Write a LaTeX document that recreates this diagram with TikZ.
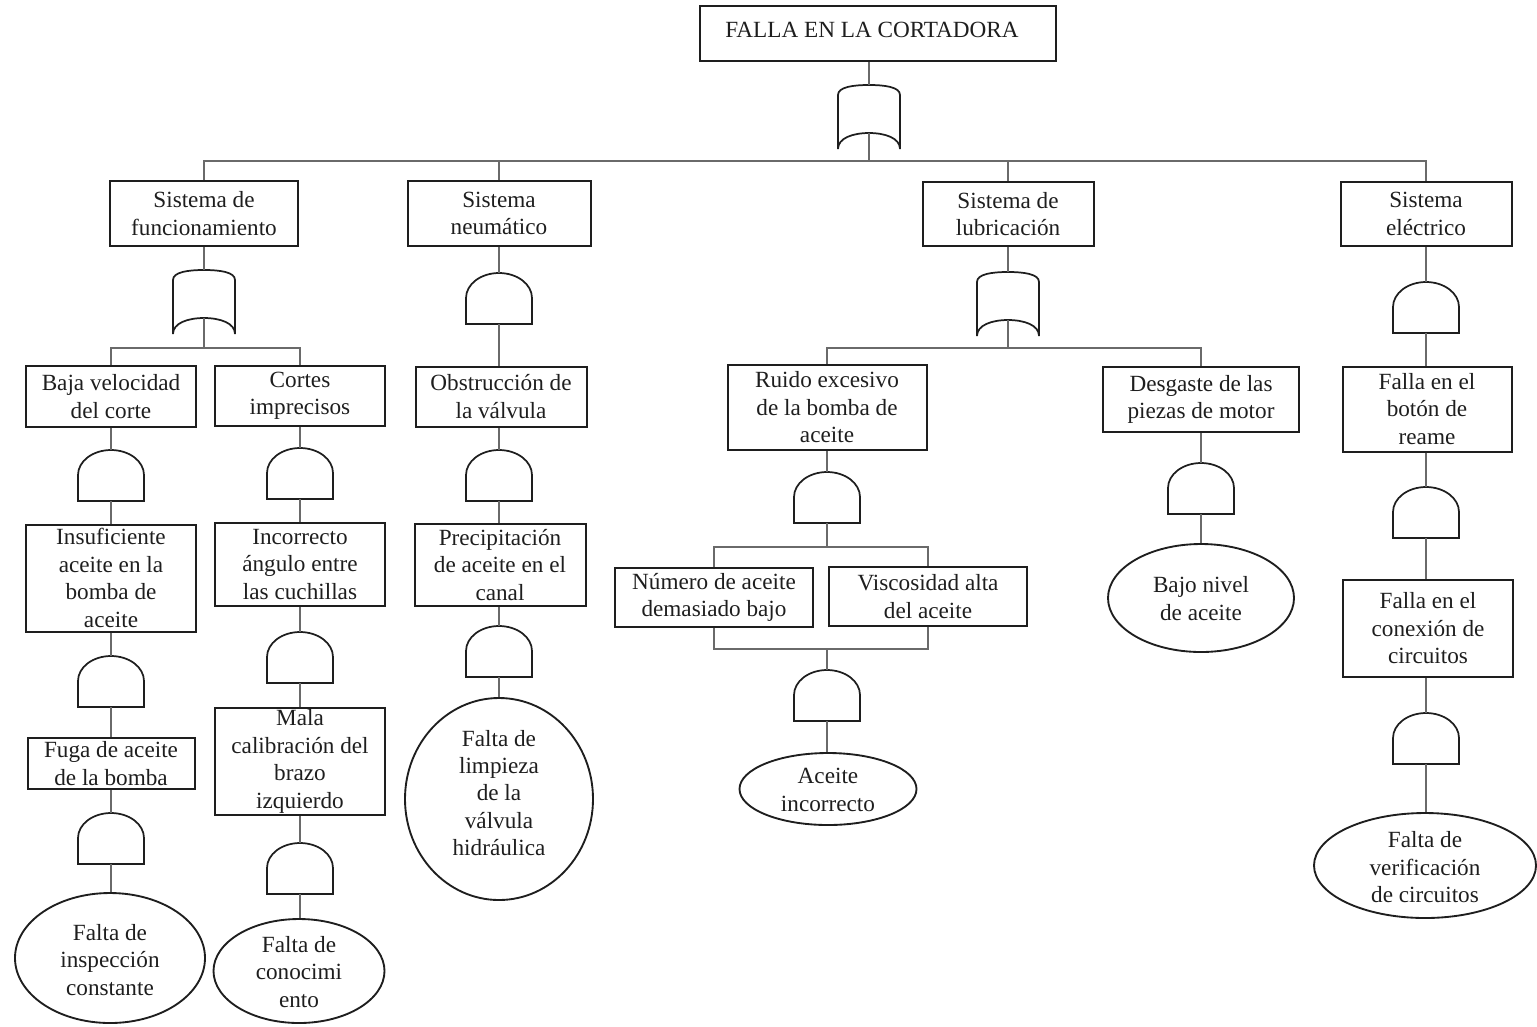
\documentclass[tikz,border=0pt]{standalone}
\usepackage{fontspec}
\setmainfont{Liberation Serif}
\usetikzlibrary{shapes.geometric}
\definecolor{ink}{HTML}{1E1E1E}
\definecolor{wire}{HTML}{6A6A6A}
\begin{document}
\begin{tikzpicture}[x=0.75pt,y=-0.75pt,
  every node/.style={font=\fontsize{17.4pt}{20.6pt}\selectfont, text=ink},
  sz/.style 2 args={minimum width=#1*0.75pt, minimum height=#2*0.75pt},
  evbox/.style={draw=ink, line width=1.5pt, rectangle, inner sep=0pt, align=center},
  evoval/.style={draw=ink, line width=1.4pt, ellipse, inner sep=0pt},
  evtext/.style={align=center, inner sep=0pt},
  conn/.style={draw=wire, line width=1pt},
  gateline/.style={draw=ink, line width=1.3pt},
  orgate/.pic={
    \draw[gateline] (-31,10) .. controls (-31,2) and (-16,0) .. (0,0)
      .. controls (16,0) and (31,2) .. (31,10) -- (31,64)
      .. controls (31,53) and (16,48) .. (0,48)
      .. controls (-16,48) and (-31,53) .. (-31,64) -- cycle;
    \coordinate (-in) at (0,0);
    \coordinate (-out) at (0,48);
  },
  andgate/.pic={
    \draw[gateline] (-33,51) -- (-33,25) .. controls (-33,11.2) and (-18.2,0) .. (0,0)
      .. controls (18.2,0) and (33,11.2) .. (33,25) -- (33,51) -- cycle;
    \coordinate (-in) at (0,0);
    \coordinate (-out) at (0,51);
  }
]
\useasboundingbox (0,0) rectangle (1537,1026);

% ---------- top event ----------
\node[evbox, sz={356}{55}] (top) at (878,33.5) {};
\node[evtext] (topt) at (872,30) {FALLA EN LA CORTADORA};
\pic (g0) at (869,85) {orgate};

% ---------- subsystems ----------
\node[evbox, sz={188}{65}] (b1) at (204,213.5) {Sistema de\\funcionamiento};
\node[evbox, sz={183}{65}] (b2) at (499,213.5) {Sistema\\neumático};
\node[evbox, sz={171}{64}] (b3) at (1008,214) {Sistema de\\lubricación};
\node[evbox, sz={171}{64}] (b4) at (1426,214) {Sistema\\eléctrico};

\pic (g1) at (204,270) {orgate};
\pic (g2) at (499,273) {andgate};
\pic (g3) at (1008,272) {orgate};
\pic (g4) at (1426,282) {andgate};

% ---------- third level ----------
\node[evbox, sz={170}{61}] (c1) at (111,396.5) {Baja velocidad\\del corte};
\node[evbox, sz={170}{60}] (c2) at (300,396) {Cortes\\imprecisos};
\node[evbox, sz={171}{60}] (c3) at (501,396.5) {Obstrucción de\\la válvula};
\node[evbox, sz={199}{85}] (c4) at (827,407.5) {Ruido excesivo\\de la bomba de\\aceite};
\node[evbox, sz={196}{65}] (c5) at (1201,399.5) {Desgaste de las\\piezas de motor};
\node[evbox, sz={169}{85}] (c6) at (1427,409) {Falla en el\\botón de\\reame};

\pic (gA1) at (111,450) {andgate};
\pic (gB1) at (300,448) {andgate};
\pic (gC1) at (499,450) {andgate};
\pic (gD1) at (827,472) {andgate};
\pic (gE1) at (1201,463) {andgate};
\pic (gF1) at (1426,487) {andgate};

% ---------- fourth level ----------
\node[evbox, sz={170}{107}] (d1) at (111,578) {Insuficiente\\aceite en la\\bomba de\\aceite};
\node[evbox, sz={170}{83}] (d2) at (300,564.5) {Incorrecto\\ángulo entre\\las cuchillas};
\node[evbox, sz={171}{82}] (d3) at (500,565) {Precipitación\\de aceite en el\\canal};
\node[evbox, sz={198}{59}] (d4) at (714,597.5) {Número de aceite\\demasiado bajo};
\node[evbox, sz={198}{59}] (d5) at (928,596.5) {Viscosidad alta\\del aceite};
\node[evoval, sz={186}{108}] (d6) at (1201,598) {};
\node[evtext] (d6t) at (1201,598.5) {Bajo nivel\\de aceite};
\node[evbox, sz={170}{97}] (d7) at (1428,628.5) {Falla en el\\conexión de\\circuitos};

\pic (gA2) at (111,656) {andgate};
\pic (gB2) at (300,632) {andgate};
\pic (gC2) at (499,626) {andgate};
\pic (gD2) at (827,670) {andgate};
\pic (gF2) at (1426,713) {andgate};

% ---------- fifth level ----------
\node[evbox, sz={167}{51}] (e1) at (111,763.5) {Fuga de aceite\\de la bomba};
\node[evbox, sz={170}{107}] (e2) at (300,761.5) {Mala\\calibración del\\brazo\\izquierdo};
\node[evoval, sz={188}{202}] (e3) at (499,799) {};
\node[evtext] (e3t) at (499,793) {Falta de\\limpieza\\de la\\válvula\\hidráulica};
\node[evoval, sz={177}{72}] (e4) at (828,789) {};
\node[evtext] (e4t) at (828,790) {Aceite\\incorrecto};
\node[evoval, sz={222}{105}] (e5) at (1425,865.5) {};
\node[evtext] (e5t) at (1425,867.5) {Falta de\\verificación\\de circuitos};

\pic (gA3) at (111,813) {andgate};
\pic (gB3) at (300,843) {andgate};

% ---------- basic events ----------
\node[evoval, sz={190}{130}] (f1) at (110,958) {};
\node[evtext] (f1t) at (110,960) {Falta de\\inspección\\constante};
\node[evoval, sz={171}{104}] (f2) at (299,971) {};
\node[evtext] (f2t) at (299,972) {Falta de\\conocimi\\ento};

% ---------- connectors ----------
\coordinate (bus0) at (869,161);
\draw[conn] (g0-in |- top.south) -- (g0-in);
\draw[conn] (g0-out) -- (bus0);
\draw[conn] (b1.north) |- (bus0) -| (b4.north);
\draw[conn] (b2.north) |- (bus0);
\draw[conn] (b3.north) |- (bus0);

\draw[conn] (b1.south) -- (g1-in);
\draw[conn] (b2.south) -- (g2-in);
\draw[conn] (b3.south) -- (g3-in);
\draw[conn] (b4.south) -- (g4-in);

\coordinate (bus1) at (204,348);
\draw[conn] (g1-out) -- (bus1);
\draw[conn] (c1.north) |- (bus1) -| (c2.north);
\draw[conn] (g2-out) -- (g2-out |- c3.north);
\coordinate (bus3) at (1008,348);
\draw[conn] (g3-out) -- (bus3);
\draw[conn] (c4.north) |- (bus3) -| (c5.north);
\draw[conn] (g4-out) -- (g4-out |- c6.north);

\draw[conn] (c1.south) -- (gA1-in);
\draw[conn] (c2.south) -- (gB1-in);
\draw[conn] (gC1-in |- c3.south) -- (gC1-in);
\draw[conn] (c4.south) -- (gD1-in);
\draw[conn] (c5.south) -- (gE1-in);
\draw[conn] (gF1-in |- c6.south) -- (gF1-in);

\draw[conn] (gA1-out) -- (d1.north);
\draw[conn] (gB1-out) -- (d2.north);
\draw[conn] (gC1-out) -- (gC1-out |- d3.north);
\coordinate (bus4) at (827,547);
\draw[conn] (gD1-out) -- (bus4);
\draw[conn] (d4.north) |- (bus4) -| (d5.north);
\draw[conn] (gE1-out) -- (d6.north);
\draw[conn] (gF1-out) -- (gF1-out |- d7.north);

\coordinate (bus5) at (827,649);
\draw[conn] (d4.south) |- (bus5) -| (d5.south);
\draw[conn] (bus5) -- (gD2-in);
\draw[conn] (d1.south) -- (gA2-in);
\draw[conn] (d2.south) -- (gB2-in);
\draw[conn] (gC2-in |- d3.south) -- (gC2-in);
\draw[conn] (gF2-in |- d7.south) -- (gF2-in);

\draw[conn] (gA2-out) -- (gA2-out |- e1.north);
\draw[conn] (gB2-out) -- (e2.north);
\draw[conn] (gC2-out) -- (e3.north);
\draw[conn] (gD2-out) -- (gD2-out |- e4.north);
\draw[conn] (gF2-out) -- (gF2-out |- e5.north);

\draw[conn] (gA3-in |- e1.south) -- (gA3-in);
\draw[conn] (e2.south) -- (gB3-in);
\draw[conn] (gA3-out) -- (gA3-out |- f1.north);
\draw[conn] (gB3-out) -- (gB3-out |- f2.north);
\end{tikzpicture}
\end{document}
